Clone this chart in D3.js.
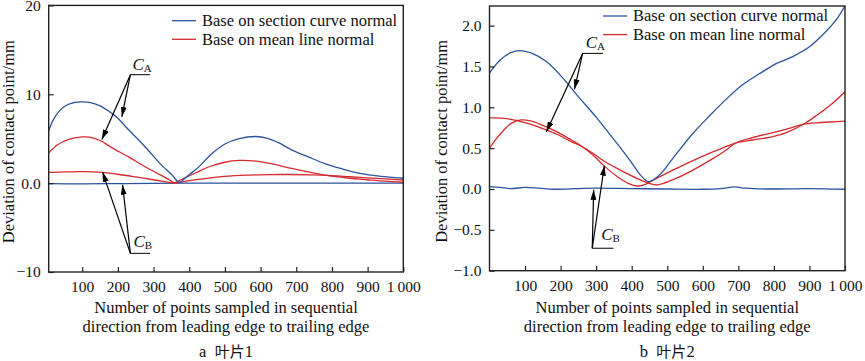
<!DOCTYPE html>
<html>
<head>
<meta charset="utf-8">
<script src="https://cdn.jsdelivr.net/npm/d3@7"></script>
<style>
  body { margin: 0; background: #fff; }
  svg text { font-family: "Liberation Serif", "Times New Roman", Tinos, serif; fill: #111; }
</style>
</head>
<body>
<svg id="chart" width="865" height="361"></svg>
<script>
// shared text
var xTicks = [100, 200, 300, 400, 500, 600, 700, 800, 900, 1000];
var legendLabels = ["Base on section curve normal", "Base on mean line normal"];
var xTitle = ["Number of points sampled in sequential", "direction from leading edge to trailing edge"];
var yTitle = "Deviation of contact point/mm";
var captions = ["a 叶片1", "b 叶片2"];

// blade 1
var yTicks1 = [-10, 0, 10, 20];
var b1SectionA = [[6,5.9],[20,7.2],[40,8.3],[60,8.85],[80,9.1],[100,9.15],[120,9.08],[150,8.7],[183,7.85],[200,7.3],[230,6.0],[276,4.1],[323,2.0],[350,1.0],[372,0.1],[385,0.45],[400,0.95],[426,1.8],[463,3.3],[500,4.4],[540,5.0],[584,5.25],[620,5.05],[650,4.55],[687,3.75],[734,2.95],[780,2.2],[827,1.62],[874,1.13],[920,0.85],[960,0.68],[1000,0.55]];
var b1SectionB = [[6,-0.05],[100,-0.08],[200,-0.05],[300,-0.03],[400,0],[500,0],[600,0],[700,0],[800,0],[900,0],[1000,0]];
var b1MeanA = [[6,3.4],[30,4.3],[60,4.9],[100,5.2],[120,5.18],[150,4.8],[183,4.0],[230,2.95],[276,1.85],[320,0.9],[345,0.35],[358,0.05],[375,0.35],[420,1.2],[460,1.9],[500,2.35],[540,2.55],[580,2.5],[640,2.1],[687,1.65],[740,1.2],[780,0.9],[850,0.55],[900,0.38],[950,0.22],[1000,0.1]];
var b1MeanB = [[6,1.2],[50,1.27],[100,1.3],[155,1.22],[200,1.0],[250,0.7],[300,0.38],[335,0.15],[360,0.0],[380,0.15],[420,0.4],[460,0.6],[500,0.76],[560,0.9],[620,0.96],[680,0.97],[740,0.93],[800,0.84],[850,0.72],[900,0.6],[950,0.47],[1000,0.35]];

// blade 2
var yTicks2 = [-1, -0.5, 0, 0.5, 1, 1.5, 2];
var b2SectionA = [[0,1.42],[30,1.58],[60,1.67],[85,1.695],[120,1.66],[160,1.56],[206,1.36],[248,1.14],[300,0.88],[340,0.66],[369,0.5],[400,0.32],[425,0.17],[447,0.09],[478,0.17],[520,0.4],[572,0.68],[620,0.9],[666,1.1],[710,1.27],[759,1.41],[800,1.52],[853,1.62],[900,1.74],[947,1.93],[975,2.07],[1000,2.24]];
var b2SectionB = [[0,0.03],[30,0.02],[60,0.005],[100,0.02],[140,0.01],[180,-0.003],[250,0.005],[300,0.01],[400,0.005],[500,0],[600,-0.003],[650,0.005],[690,0.025],[720,0.01],[780,0],[900,0.005],[1000,-0.003]];
var b2MeanA = [[0,0.5],[20,0.62],[40,0.72],[60,0.8],[88,0.845],[115,0.835],[150,0.78],[190,0.7],[230,0.6],[260,0.52],[290,0.42],[323,0.28],[360,0.15],[390,0.07],[416,0.037],[440,0.06],[470,0.13],[520,0.24],[563,0.33],[620,0.44],[660,0.51],[694,0.566],[740,0.6],[797,0.64],[840,0.7],[882,0.79],[920,0.9],[960,1.03],[1000,1.19]];
var b2MeanB = [[0,0.87],[40,0.865],[75,0.84],[110,0.8],[150,0.74],[190,0.67],[230,0.58],[260,0.52],[290,0.44],[323,0.34],[360,0.25],[400,0.16],[430,0.1],[450,0.07],[469,0.05],[490,0.07],[520,0.12],[563,0.21],[620,0.35],[660,0.46],[694,0.566],[740,0.63],[797,0.69],[840,0.74],[882,0.79],[920,0.81],[960,0.82],[1000,0.83]];

// annotation anchors (data units): origin of arrows, end of underline, arrow targets
var b1Notes = [
  {sub: "A", origin: [235, 12.2], barEnd: 290, targets: [[155, 4.9], [211, 7.46]], dx: 2, dy: -5},
  {sub: "B", origin: [235, -7.9], barEnd: 290, targets: [[157, 1.24], [213, -0.18]], dx: 3, dy: -6}
];
var b2Notes = [
  {sub: "A", origin: [262, 1.66], barEnd: 319, targets: [[160, 0.70], [239, 1.22]], dx: 3, dy: -5},
  {sub: "B", origin: [289, -0.725], barEnd: 349, targets: [[293, -0.01], [323, 0.285]], dx: 9, dy: -8}
];

var blue = "#2b539c", red = "#d42a2e";
var serif = "'Liberation Serif', 'Times New Roman', Tinos, serif";
var svg = d3.select("#chart");

svg.append("defs").append("marker")
    .attr("id", "head")
    .attr("viewBox", "0 0 10 6")
    .attr("refX", 10).attr("refY", 3)
    .attr("markerWidth", 10).attr("markerHeight", 6)
    .attr("markerUnits", "userSpaceOnUse")
    .attr("orient", "auto")
  .append("path")
    .attr("d", "M0,0L10,3L0,6Z")
    .attr("fill", "#000");

function fmtY(d) {
  var s = Number.isInteger(d) && Math.abs(d) >= 5 ? String(d) : d3.format(".1f")(d);
  return s.replace("-", "\u2212");
}

function panel(p) {
  var x = d3.scaleLinear().domain(p.xDomain).range([p.left, p.right]);
  var y = d3.scaleLinear().domain(p.yDomain).range([p.bottom, p.top]);
  var g = svg.append("g").style("font-family", serif);

  g.append("clipPath").attr("id", p.id + "clip")
    .append("rect")
      .attr("x", p.left).attr("y", p.top)
      .attr("width", p.right - p.left).attr("height", p.bottom - p.top);

  var line = d3.line()
      .x(d => x(d[0]))
      .y(d => y(d[1]))
      .curve(d3.curveCatmullRom.alpha(0.5));

  var lines = g.append("g").attr("clip-path", "url(#" + p.id + "clip)");
  p.series.forEach(function(s) {
    lines.append("path")
        .attr("d", line(s.data))
        .attr("fill", "none")
        .attr("stroke", s.color)
        .attr("stroke-width", 1.3);
  });

  // axes, ticks pointing inward
  var xa = g.append("g")
      .attr("transform", "translate(0," + p.bottom + ")")
      .call(d3.axisBottom(x).tickValues(xTicks).tickSize(-5).tickPadding(9)
        .tickFormat(d => d === 1000 ? "1\u2009000" : d));
  var ya = g.append("g")
      .attr("transform", "translate(" + p.left + ",0)")
      .call(d3.axisLeft(y).tickValues(p.yTicks).tickSize(-5).tickPadding(8).tickFormat(fmtY));
  [xa, ya].forEach(function(a) {
    a.attr("font-family", null).attr("font-size", null);
    a.select(".domain").remove();
    a.selectAll("line").attr("stroke", "#222").attr("stroke-width", 1.2);
    a.selectAll("text").style("font-family", serif).style("font-size", "15.5px").attr("fill", "#111");
  });

  g.append("rect")
      .attr("x", p.left).attr("y", p.top)
      .attr("width", p.right - p.left).attr("height", p.bottom - p.top)
      .attr("fill", "none")
      .attr("stroke", "#222")
      .attr("stroke-width", 1.4);

  // legend
  legendLabels.forEach(function(label, i) {
    var ly = p.legendY + i * 18.6;
    g.append("line")
        .attr("x1", p.legendX).attr("x2", p.legendX + 24)
        .attr("y1", ly).attr("y2", ly)
        .attr("stroke", i === 0 ? blue : red)
        .attr("stroke-width", 1.3);
    g.append("text")
        .attr("x", p.legendX + 30).attr("y", ly)
        .attr("dy", "0.33em")
        .style("font-family", serif)
        .style("font-size", "16.5px")
        .text(label);
  });

  // C_A / C_B callouts
  p.notes.forEach(function(n) {
    var ox = x(n.origin[0]), oy = y(n.origin[1]);
    g.append("line")
        .attr("x1", ox).attr("x2", x(n.barEnd))
        .attr("y1", oy).attr("y2", oy)
        .attr("stroke", "#000").attr("stroke-width", 1);
    n.targets.forEach(function(t) {
      g.append("line")
          .attr("x1", ox).attr("y1", oy)
          .attr("x2", x(t[0])).attr("y2", y(t[1]))
          .attr("stroke", "#000").attr("stroke-width", 1.2)
          .attr("marker-end", "url(#head)");
    });
    var lab = g.append("text")
        .attr("x", ox + n.dx).attr("y", oy + n.dy)
        .style("font-family", serif)
        .style("font-size", "17px");
    lab.append("tspan").style("font-style", "italic").text("C");
    lab.append("tspan").attr("dy", 2).style("font-size", "11px").text(n.sub);
  });

  // titles
  var cx = (p.left + p.right) / 2;
  xTitle.forEach(function(t, i) {
    g.append("text")
        .attr("x", cx).attr("y", 313 + i * 18.5)
        .attr("text-anchor", "middle")
        .style("font-family", serif)
        .style("font-size", "16.5px")
        .text(t);
  });
  g.append("text")
      .attr("transform", "translate(" + p.yTitleX + "," + ((p.top + p.bottom) / 2 + 3) + ") rotate(-90)")
      .attr("text-anchor", "middle")
      .style("font-family", serif)
      .style("font-size", "16.5px")
      .text(yTitle);
  var cap = g.append("text")
      .attr("x", cx).attr("y", 357)
      .attr("text-anchor", "middle")
      .style("font-family", serif)
      .style("font-size", "16.5px");
  var parts = p.caption.split(" ");
  cap.append("tspan").text(parts[0] + "\u2002");
  cap.append("tspan").style("font-family", "'Noto Sans CJK SC'").style("font-size", "15px").text(parts[1].slice(0, 2));
  cap.append("tspan").text(parts[1].slice(2));
}

panel({
  id: "p1", left: 48.7, right: 403.3, top: 5.4, bottom: 272,
  xDomain: [6, 1000], yDomain: [-10, 20], yTicks: yTicks1,
  series: [
    {data: b1SectionB, color: blue},
    {data: b1MeanB, color: red},
    {data: b1MeanA, color: red},
    {data: b1SectionA, color: blue}
  ],
  legendX: 172, legendY: 20.7, notes: b1Notes, yTitleX: 14, caption: captions[0]
});

panel({
  id: "p2", left: 489.5, right: 845, top: 6, bottom: 270.7,
  xDomain: [0, 1000], yDomain: [-1, 2.24], yTicks: yTicks2,
  series: [
    {data: b2SectionB, color: blue},
    {data: b2MeanA, color: red},
    {data: b2MeanB, color: red},
    {data: b2SectionA, color: blue}
  ],
  legendX: 603, legendY: 16, notes: b2Notes, yTitleX: 447, caption: captions[1]
});
</script>
</body>
</html>
